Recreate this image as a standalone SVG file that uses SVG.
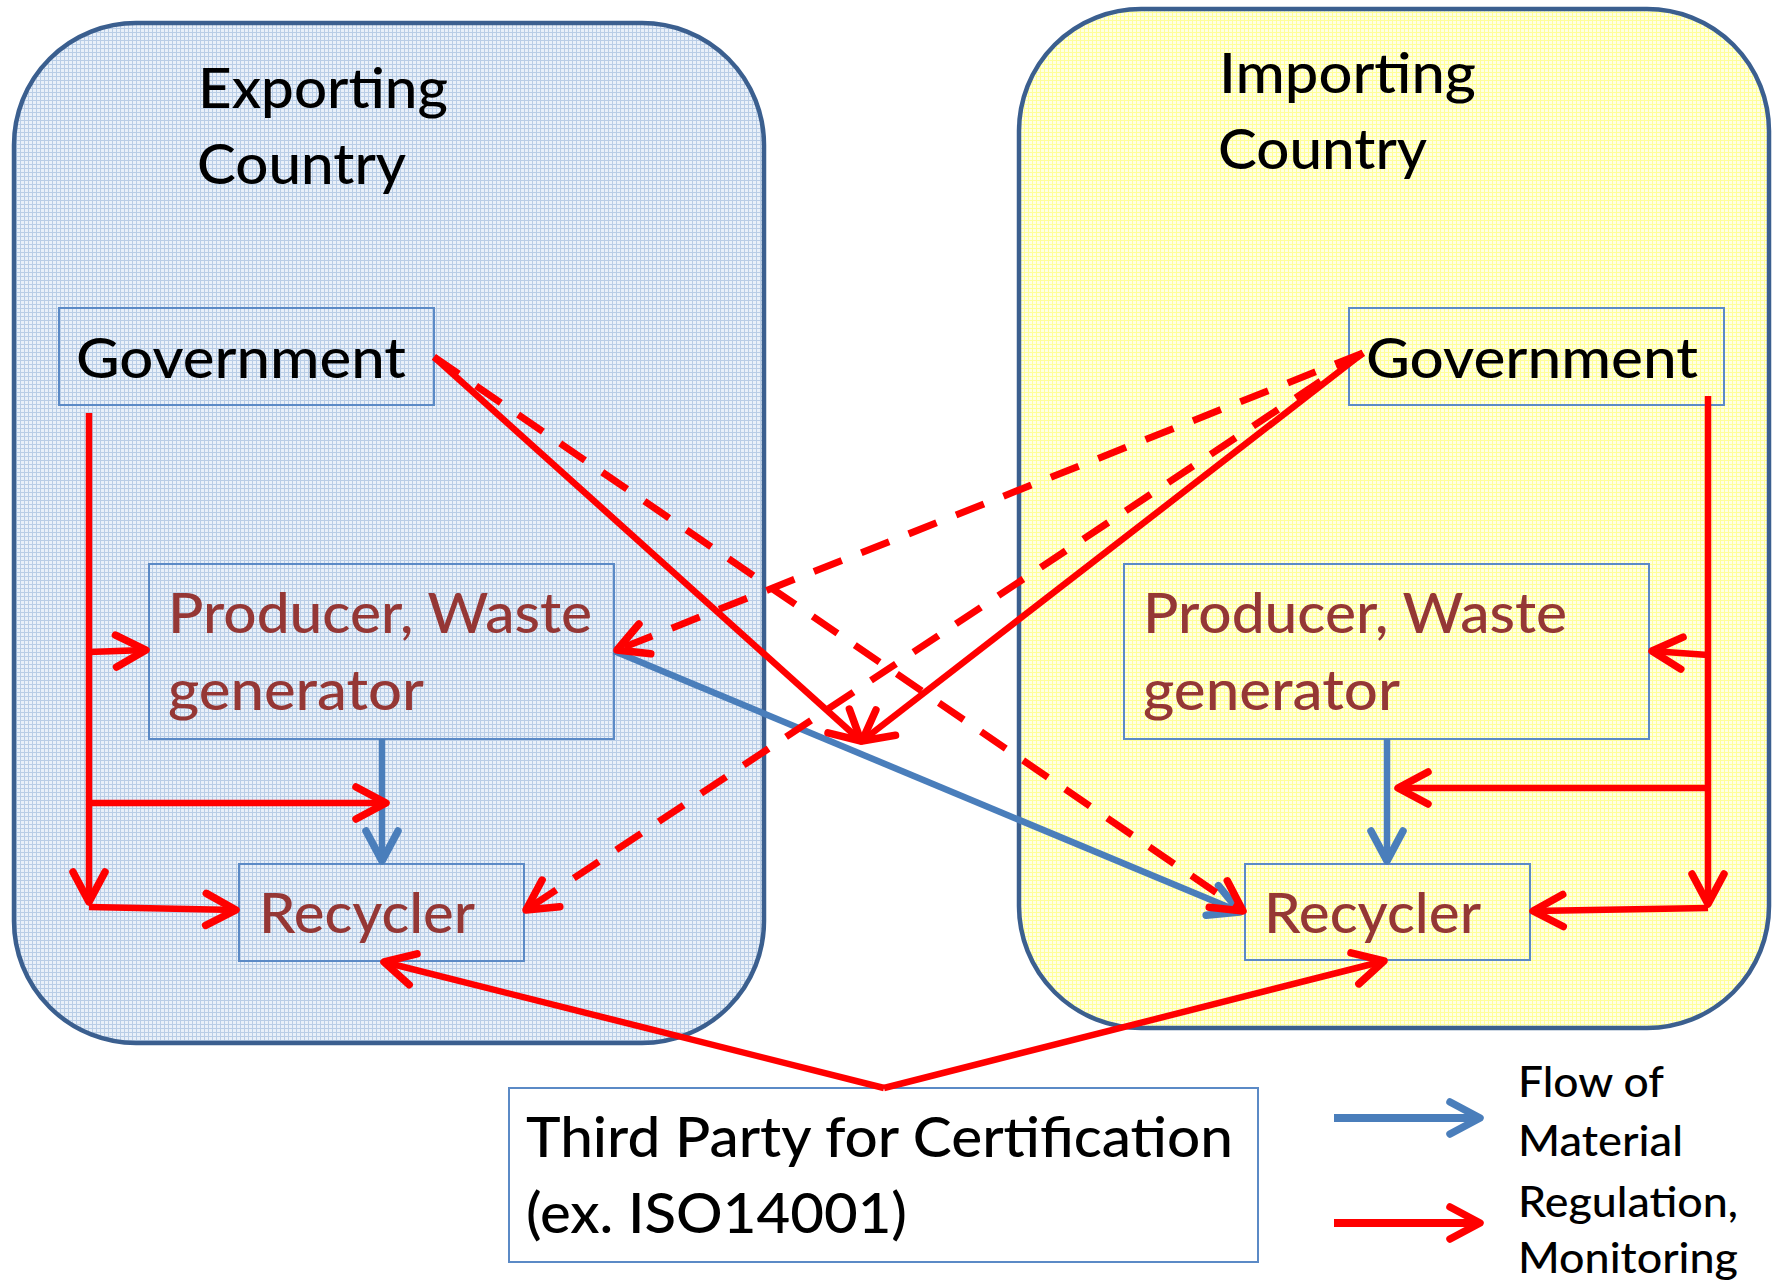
<svg xmlns="http://www.w3.org/2000/svg" width="1772" height="1283" viewBox="0 0 1772 1283">
  <defs>
    <pattern id="gridBlue" patternUnits="userSpaceOnUse" x="0" y="0" width="4" height="4">
      <rect width="4" height="4" fill="#E9F0F9"/>
      <rect width="4" height="1" fill="#B9CDE6"/>
      <rect width="1" height="4" fill="#B9CDE6"/>
    </pattern>
    <pattern id="gridYellow" patternUnits="userSpaceOnUse" x="0" y="0" width="4" height="4">
      <rect width="4" height="4" fill="#FFFFE4"/>
      <rect width="4" height="1" fill="#FFFF99"/>
      <rect width="1" height="4" fill="#FFFF99"/>
    </pattern>
    <marker id="arRed" markerUnits="userSpaceOnUse" orient="auto" markerWidth="48" markerHeight="48" viewBox="-40 -24 48 48" refX="0" refY="0" overflow="visible">
      <path d="M-30,-16 L0,0 L-30,16" fill="none" stroke="#FF0000" stroke-width="7.5" stroke-linecap="round" stroke-linejoin="round"/>
    </marker>
    <marker id="arBlue" markerUnits="userSpaceOnUse" orient="auto" markerWidth="48" markerHeight="48" viewBox="-40 -24 48 48" refX="0" refY="0" overflow="visible">
      <path d="M-30,-16 L0,0 L-30,16" fill="none" stroke="#4A7EBB" stroke-width="7.5" stroke-linecap="round" stroke-linejoin="round"/>
    </marker>
  </defs>
  <style>
    .region { stroke: #3B5F8F; stroke-width: 4.5; }
    .box { fill: none; stroke: #5B8AC6; stroke-width: 2; }
    .t { font-family: Lato, "Open Sans", sans-serif; font-size: 56px; font-weight: 500; fill: #000000; }
    .dr { fill: #953735; }
    .legend { font-size: 43px; }
    .reg { fill: none; stroke: #FF0000; stroke-width: 6.5; marker-end: url(#arRed); }
    .dash { stroke-width: 7; stroke-dasharray: 30 21; }
    .flow { fill: none; stroke: #4A7EBB; stroke-width: 6.5; marker-end: url(#arBlue); }
  </style>

  <!-- country regions -->
  <g id="exporting-country">
    <rect class="region" x="14" y="23" width="750" height="1020" rx="122" ry="122" fill="url(#gridBlue)"/>
    <text class="t" x="198" y="108" textLength="250" lengthAdjust="spacingAndGlyphs">Exporting</text>
    <text class="t" x="197" y="184" textLength="209" lengthAdjust="spacingAndGlyphs">Country</text>
  </g>
  <g id="importing-country">
    <rect class="region" x="1019" y="9" width="750" height="1019" rx="122" ry="122" fill="url(#gridYellow)"/>
    <text class="t" x="1219" y="93" textLength="257" lengthAdjust="spacingAndGlyphs">Importing</text>
    <text class="t" x="1218" y="169" textLength="209" lengthAdjust="spacingAndGlyphs">Country</text>
  </g>

  <!-- exporting side nodes -->
  <g id="exp-government">
    <rect class="box" x="59" y="308" width="375" height="97"/>
    <text class="t" x="76" y="378" textLength="330" lengthAdjust="spacingAndGlyphs">Government</text>
  </g>
  <g id="exp-producer">
    <rect class="box" x="149" y="564" width="465" height="175"/>
    <text class="t dr" x="168" y="633" textLength="424" lengthAdjust="spacingAndGlyphs">Producer, Waste</text>
    <text class="t dr" x="168" y="710" textLength="256" lengthAdjust="spacingAndGlyphs">generator</text>
  </g>
  <g id="exp-recycler">
    <rect class="box" x="239" y="864" width="285" height="97"/>
    <text class="t dr" x="259" y="933" textLength="216" lengthAdjust="spacingAndGlyphs">Recycler</text>
  </g>

  <!-- importing side nodes -->
  <g id="imp-government">
    <rect class="box" x="1349" y="308" width="375" height="97"/>
    <text class="t" x="1366" y="378" textLength="332" lengthAdjust="spacingAndGlyphs">Government</text>
  </g>
  <g id="imp-producer">
    <rect class="box" x="1124" y="564" width="525" height="175"/>
    <text class="t dr" x="1143" y="633" textLength="424" lengthAdjust="spacingAndGlyphs">Producer, Waste</text>
    <text class="t dr" x="1143" y="710" textLength="257" lengthAdjust="spacingAndGlyphs">generator</text>
  </g>
  <g id="imp-recycler">
    <rect class="box" x="1245" y="864" width="285" height="96"/>
    <text class="t dr" x="1264" y="933" textLength="217" lengthAdjust="spacingAndGlyphs">Recycler</text>
  </g>

  <!-- certification body -->
  <g id="third-party">
    <rect x="509" y="1088" width="749" height="174" fill="#FFFFFF" stroke="#5B8AC6" stroke-width="2"/>
    <text class="t" x="526" y="1157" textLength="707" lengthAdjust="spacingAndGlyphs">Third Party for Certification</text>
    <text class="t" x="526" y="1233" textLength="381" lengthAdjust="spacingAndGlyphs">(ex. ISO14001)</text>
  </g>

  <!-- legend -->
  <g id="legend">
    <line x1="1334" y1="1118" x2="1480" y2="1118" stroke="#4A7EBB" stroke-width="8" marker-end="url(#arBlue)"/>
    <line x1="1334" y1="1223" x2="1480" y2="1223" stroke="#FF0000" stroke-width="8" marker-end="url(#arRed)"/>
    <text class="t legend" x="1518" y="1097" textLength="146" lengthAdjust="spacingAndGlyphs">Flow of</text>
    <text class="t legend" x="1518" y="1156" textLength="165" lengthAdjust="spacingAndGlyphs">Material</text>
    <text class="t legend" x="1518" y="1217" textLength="220" lengthAdjust="spacingAndGlyphs">Regulation,</text>
    <text class="t legend" x="1518" y="1273" textLength="220" lengthAdjust="spacingAndGlyphs">Monitoring</text>
  </g>

  <!-- connectors -->
  <g id="connectors">
    <!-- material flow -->
    <path class="flow" d="M382,739 L382,861"/>
    <path class="flow" d="M1387,739 L1387,861"/>
    <path class="flow" d="M614,651 L1240,912"/>

    <!-- exporting government: internal regulation -->
    <path class="reg" d="M89,413 L89,902"/>
    <path class="reg" d="M89,652 L146,650"/>
    <path class="reg" d="M89,803 L386,803"/>
    <path class="reg" d="M89,907 L236,910"/>

    <!-- importing government: internal regulation -->
    <path class="reg" d="M1708,396 L1708,904"/>
    <path class="reg" d="M1708,655 L1652,651"/>
    <path class="reg" d="M1708,788 L1398,788"/>
    <path class="reg" d="M1708,908 L1533,911"/>

    <!-- cross-border regulation -->
    <path class="reg" d="M434,357 L861,741"/>
    <path class="reg" d="M1363,353 L862,741"/>
    <path class="reg dash" d="M434,357 L1243,911"/>
    <path class="reg dash" d="M1363,353 L617,650"/>
    <path class="reg dash" d="M1363,353 L526,910"/>

    <!-- certification -->
    <path class="reg" d="M884,1088 L384,962"/>
    <path class="reg" d="M884,1088 L1384,961"/>
  </g>
</svg>
